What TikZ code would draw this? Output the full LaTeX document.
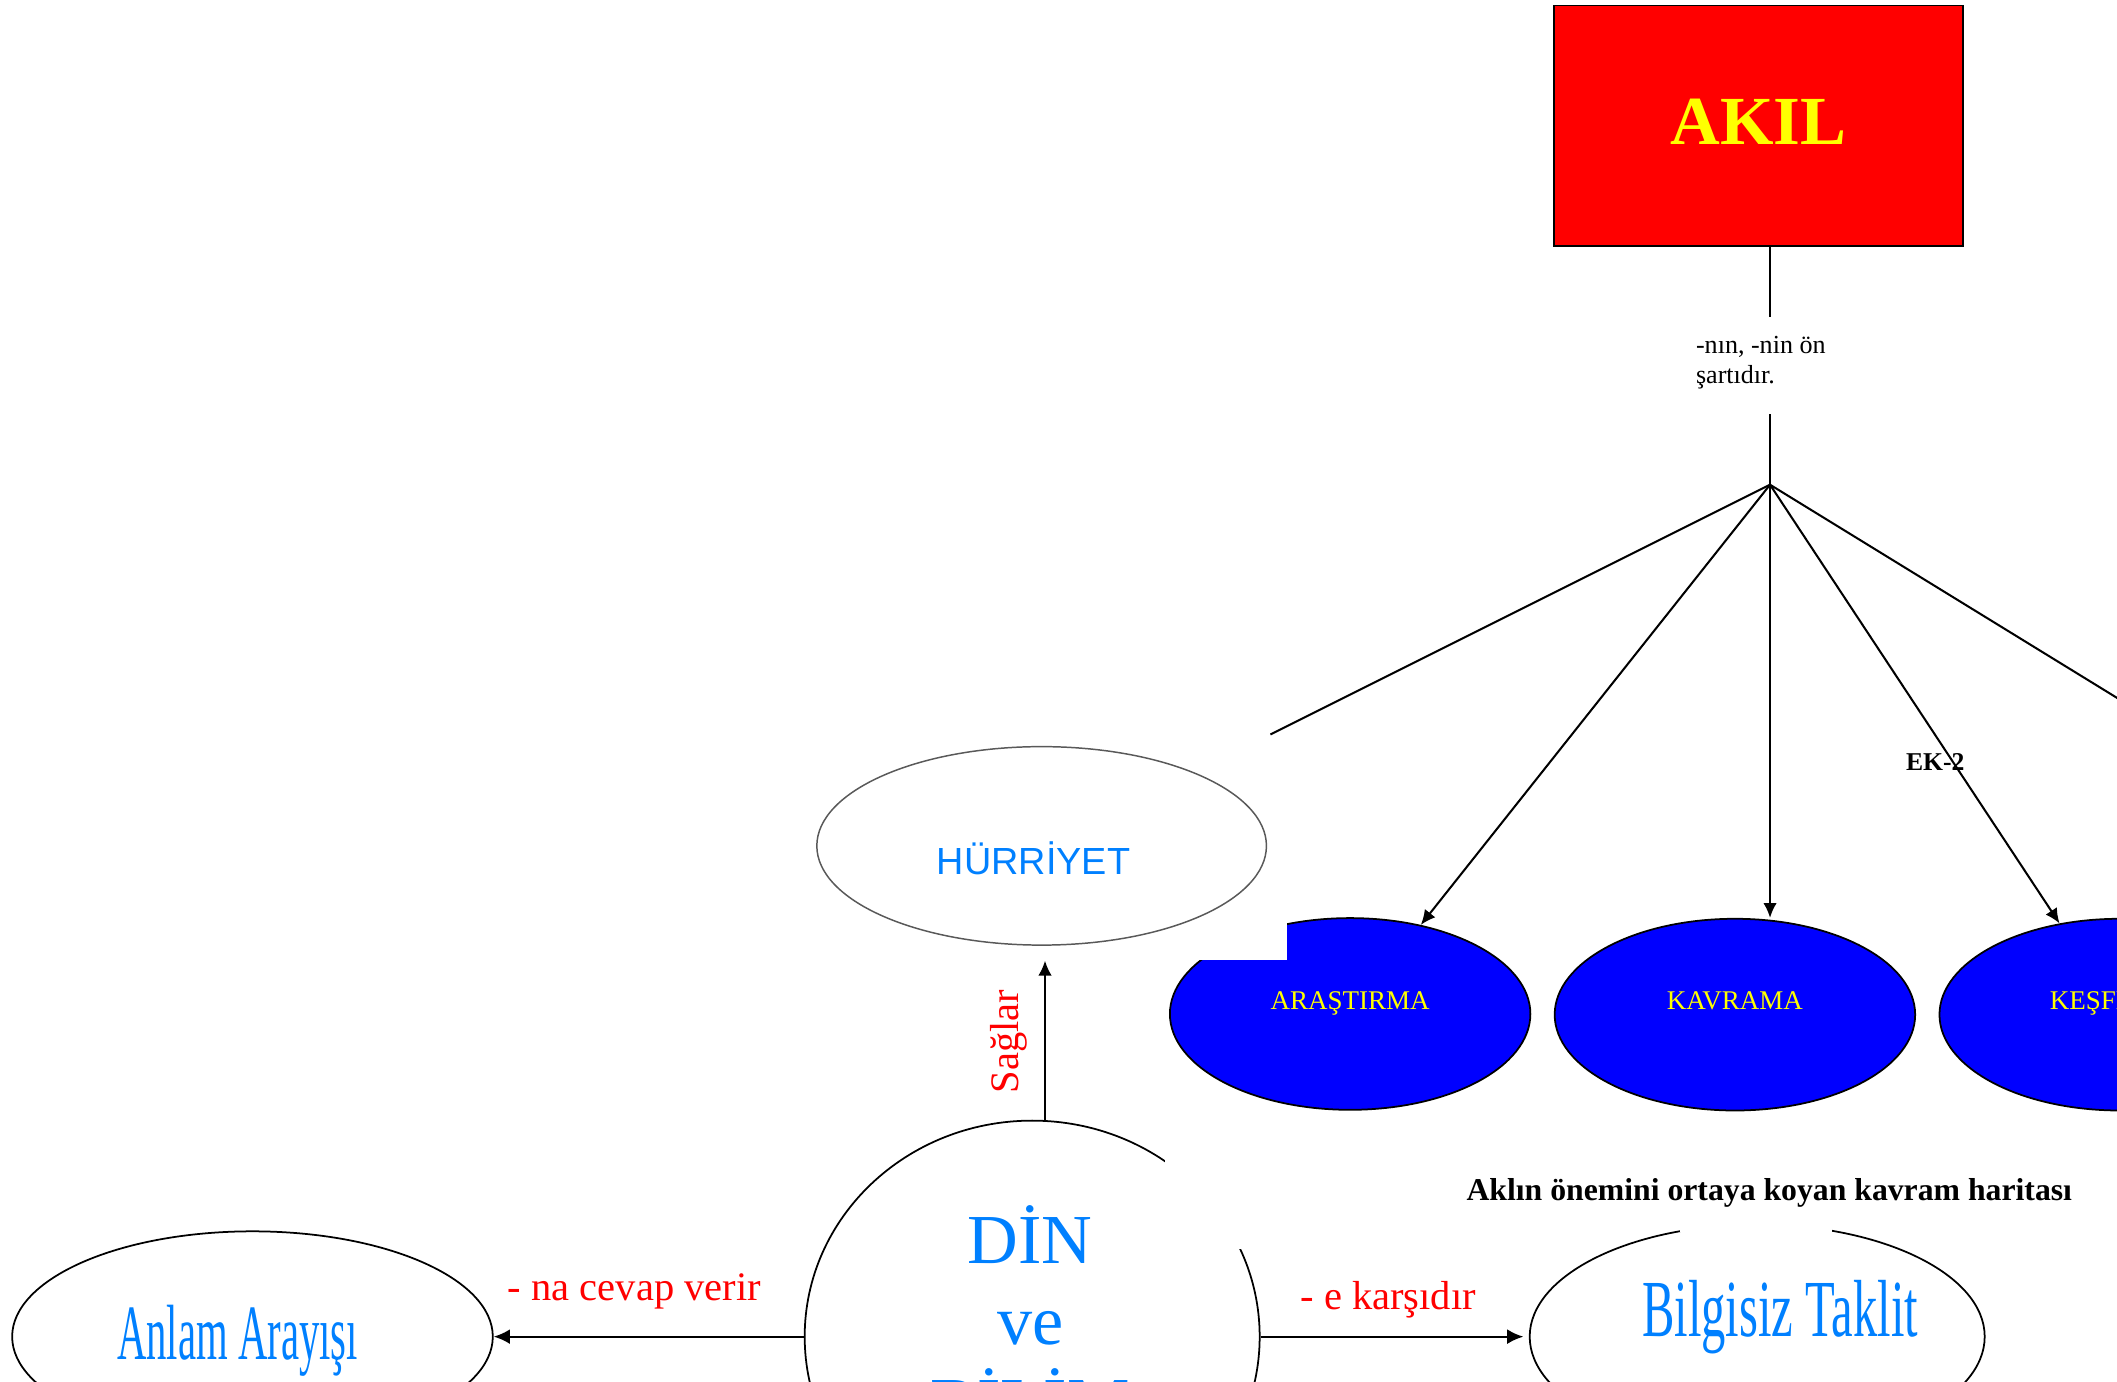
\documentclass[tikz,border=0pt]{standalone}
\usepackage{fontspec}
\setmainfont{Liberation Serif}
\newfontfamily\hsans{Liberation Sans}
\usepackage{graphicx}
\usetikzlibrary{arrows.meta,calc,shapes.geometric}
\definecolor{akred}{RGB}{255,0,0}
\definecolor{akyel}{RGB}{255,255,0}
\definecolor{akblue}{RGB}{0,0,255}
\definecolor{txtblue}{RGB}{0,128,255}
\begin{document}
\begin{tikzpicture}[x=1pt,y=-1pt,
  conn/.style={line width=1.5pt, black},
  arr/.style={conn, -{Latex[length=11pt,width=10pt]}},
  harr/.style={line width=1.7pt, black, -{Latex[length=12pt,width=11pt]}},
  blueell/.style={ellipse, draw=black, line width=1.3pt, fill=akblue, minimum width=267pt, minimum height=142pt, inner sep=0pt},
  whiteell/.style={ellipse, draw=black, line width=1.3pt, inner sep=0pt},
  txt/.style={inner sep=0pt, anchor=base},
  insidetxt/.style={txt, text=akyel, font=\fontsize{20}{24}\selectfont},
  redtxt/.style={txt, text=akred, font=\fontsize{30}{34}\selectfont},
]
\useasboundingbox (0,0) rectangle (1568,1023);

% AKIL box
\node[draw=black, line width=1.2pt, fill=akred, minimum width=303pt, minimum height=178pt,
      inner sep=0pt, text depth=6pt, text=akyel, font=\fontsize{51}{60}\selectfont\bfseries]
      (akil) at (1302.5,93) {AKIL};

\coordinate (hub) at (1311,359);
\coordinate (c1) at (1311,235);
\coordinate (c2) at (1311,307);
\coordinate (hleft) at (941,544);
\coordinate (hright) at (1700,598);

\node[txt, anchor=base west, font=\fontsize{19.3}{22.5}\selectfont] (onsart) at (1256,261.7)
  {\begin{tabular}[t]{@{}l@{}}-nın, -nin ön\\şartıdır.\end{tabular}};

% blue ellipses
\node[blueell] (ar) at (1000,751) {};
\node[blueell] (kav) at (1285,751.5) {};
\node[blueell] (kes) at (1570,751.5) {};
\fill[white] (858,676) rectangle (953,711);

% Hurriyet
\node[ellipse, draw=black!65, line width=1.1pt, inner sep=0pt, minimum width=333pt, minimum height=147pt]
  (hur) at (771.5,626.5) {};

% lower ellipses
\node[whiteell, minimum width=337pt, minimum height=320pt] (din) at (764.5,990) {};
\node[whiteell, minimum width=356pt, minimum height=156pt] (anlam) at (187,990) {};
\node[whiteell, minimum width=337pt, minimum height=166pt] (bilg) at (1301.5,990) {};
\fill[white] (863,843) rectangle (1000,925);
\fill[white] (1244,897) rectangle (1357,912.5);

% connectors from AKIL
\draw[conn, line width=1.2pt] (akil.south -| hub) -- (c1);
\draw[conn, line width=1.2pt] (c2) -- (hub);
\draw[conn] (hub) -- (hleft);
\draw[conn] (hub) -- (hright);
\draw[arr] (hub) -- (ar);
\draw[arr] (hub) -- (hub |- kav.north);
\draw[arr] (hub) -- (kes);

\node[txt, anchor=base west, font=\fontsize{19}{22}\selectfont\bfseries] (ek) at (1411.6,571) {EK-2};

% texts in blue ellipses
\node[insidetxt] (art) at (1000,748) {ARAŞTIRMA};
\node[insidetxt] (kavt) at (1285,748) {KAVRAMA};
\node[insidetxt] (kest) at (1570,748) {KEŞFETME};

% Hurriyet text
\node[txt, text=txtblue, font=\hsans\fontsize{28}{32}\selectfont] (hurt) at (765.5,648) {HÜRRİYET};

% Saglar arrow
\coordinate (sx) at (774,0);
\draw[arr, shorten >=11pt] (din.north -| sx) -- (hur.south -| sx);
\node[redtxt, rotate=90] (sag) at (754,771.5) {Sağlar};

% Din ve Bilim
\node[txt, text=txtblue, font=\fontsize{52}{60}\selectfont] (dint) at (763,936)
  {\begin{tabular}[t]{@{}c@{}}DİN\\ve\\BİLİM\end{tabular}};

% side arrows
\draw[harr] (din.west) -- (anlam.east);
\draw[harr, shorten >=4pt] (din.east) -- (bilg.west);
\node[redtxt, anchor=base west] (cevap) at (376,963) {- na cevap verir};
\node[redtxt, anchor=base west] (karsi) at (963,970) {- e karşıdır};

\node[txt, text=txtblue, font=\fontsize{58}{64}\selectfont] (anlamt) at (176,1007) {\scalebox{0.52}[1]{Anlam Arayışı}};
\node[txt, text=txtblue, font=\fontsize{60}{66}\selectfont] (bilgt) at (1318.5,990) {\scalebox{0.6}[1]{Bilgisiz Taklit}};

% caption
\node[txt, anchor=base west, font=\fontsize{23.5}{27}\selectfont\bfseries] (cap) at (1086,889)
  {Aklın önemini ortaya koyan kavram haritası};
\end{tikzpicture}
\end{document}
